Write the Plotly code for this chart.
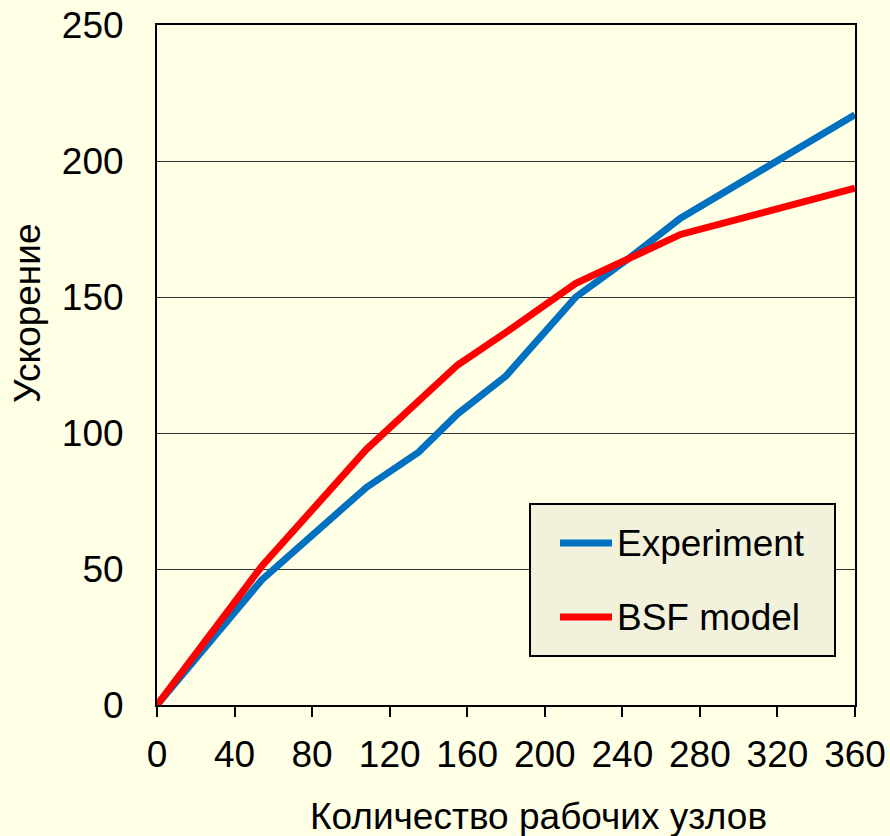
import plotly.graph_objects as go

# Number of worker nodes and measured / modelled speedup
nodes = [0, 54, 108, 135, 155, 180, 216, 243, 270, 360]
speedup_experiment = [0, 46, 80, 93, 107, 121, 150, 164, 179, 217]
speedup_bsf = [0, 51, 94, 112, 125, 137, 155, 164, 173, 190]

x_ticks = [0, 40, 80, 120, 160, 200, 240, 280, 320, 360]
y_ticks = [0, 50, 100, 150, 200, 250]

series_names = ["Experiment", "BSF model"]
series_colors = ["#0070C0", "#FF0000"]
x_title = "Количество рабочих узлов"
y_title = "Ускорение"

BG = "#FFFFE6"
FONT = "Liberation Sans, Arial, sans-serif"
W, H = 890, 836
ML, MR, MT, MB = 157, 35, 25, 131
PW, PH = W - ML - MR, H - MT - MB


def px_x(px):
    return (px - ML) / PW


def px_y(py):
    return (H - MB - py) / PH


fig = go.Figure()
for name, color, ys in zip(series_names, series_colors,
                           [speedup_experiment, speedup_bsf]):
    fig.add_trace(go.Scatter(
        x=nodes, y=ys, mode="lines", name=name,
        line=dict(color=color, width=7), showlegend=False,
    ))

# Boxed legend inside the plot area
shapes = [dict(
    type="rect", xref="paper", yref="paper",
    x0=px_x(530), x1=px_x(835), y0=px_y(656), y1=px_y(504),
    fillcolor="#F2F2DC", line=dict(color="black", width=2), layer="above",
)]
annotations = []
for i, (name, color) in enumerate(zip(series_names, series_colors)):
    yc = px_y(543 + 74 * i)
    shapes.append(dict(
        type="line", xref="paper", yref="paper",
        x0=px_x(560), x1=px_x(612), y0=yc, y1=yc,
        line=dict(color=color, width=7), layer="above",
    ))
    annotations.append(dict(
        xref="paper", yref="paper", x=px_x(615), y=yc,
        xanchor="left", yanchor="middle", showarrow=False,
        text=name, font=dict(family=FONT, size=37, color="black"),
    ))

# Axis titles
annotations.append(dict(
    xref="paper", yref="paper", x=px_x(538), y=px_y(816),
    xanchor="center", yanchor="middle", showarrow=False,
    text=x_title, font=dict(family=FONT, size=37, color="black"),
))
annotations.append(dict(
    xref="paper", yref="paper", x=px_x(27), y=px_y(313),
    xanchor="center", yanchor="middle", showarrow=False, textangle=-90,
    text=y_title, font=dict(family=FONT, size=37, color="black"),
))

fig.update_layout(
    width=W, height=H,
    margin=dict(l=ML, r=MR, t=MT, b=MB),
    paper_bgcolor=BG, plot_bgcolor=BG,
    font=dict(family=FONT, size=37, color="black"),
    showlegend=False,
    shapes=shapes, annotations=annotations,
)

fig.update_xaxes(
    range=[0, 360], tickvals=x_ticks, ticktext=[str(v) for v in x_ticks],
    showgrid=False, zeroline=False, automargin=False,
    showline=True, linecolor="black", linewidth=2, mirror=True,
    ticks="outside", ticklen=10, tickwidth=2, tickcolor="black",
    ticklabelstandoff=6,
    tickfont=dict(size=37),
)
fig.update_yaxes(
    range=[0, 250], tickvals=y_ticks, ticktext=[str(v) for v in y_ticks],
    showgrid=True, gridcolor="#333333", gridwidth=1, zeroline=False,
    automargin=False,
    showline=True, linecolor="black", linewidth=2, mirror=True,
    ticks="", ticklabelstandoff=24,
    tickfont=dict(size=37),
)

fig.write_html("out.html")
